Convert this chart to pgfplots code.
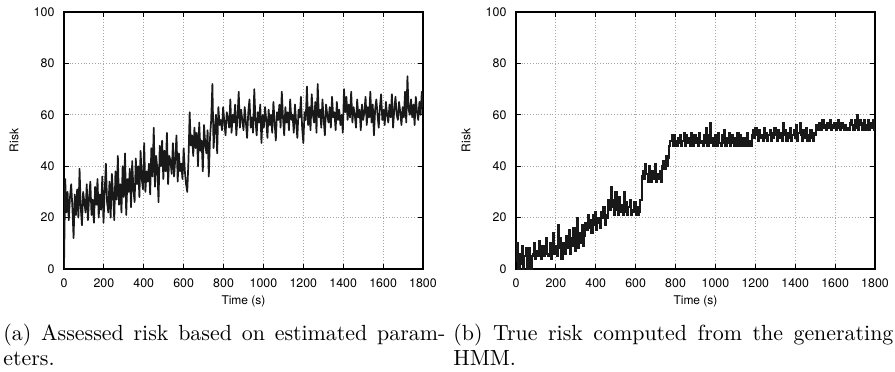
\documentclass[border=0pt]{standalone}
\usepackage{fontspec}
\usepackage{pgfplots}
\usepackage{pgfplotstable}
\pgfplotsset{compat=1.18}
\newfontfamily\hv{TeX Gyre Heros}

\pgfplotstableread[header=false,row sep=\\]{
0\\35\\22\\30\\19\\28\\33\\24\\12\\29\\21\\
31\\20\\39\\24\\17\\30\\26\\22\\33\\19\\
28\\34\\21\\27\\18\\32\\25\\35\\20\\29\\
23\\36\\18\\30\\41\\26\\22\\34\\20\\37\\
29\\19\\38\\27\\44\\25\\33\\22\\40\\28\\
45\\21\\35\\30\\39\\24\\42\\31\\26\\43\\
33\\40\\28\\46\\35\\31\\49\\30\\38\\34\\
41\\29\\47\\36\\55\\32\\44\\39\\26\\48\\
40\\50\\35\\46\\38\\53\\33\\44\\42\\37\\
49\\36\\43\\52\\34\\45\\38\\41\\35\\47\\
38\\33\\30\\42\\61\\48\\52\\44\\55\\47\\
53\\40\\57\\46\\50\\38\\56\\49\\45\\54\\
36\\51\\58\\72\\47\\55\\60\\45\\63\\56\\
58\\54\\63\\57\\52\\61\\59\\55\\66\\53\\
60\\57\\64\\52\\59\\69\\55\\62\\58\\54\\
63\\57\\51\\61\\66\\55\\59\\53\\70\\58\\
52\\61\\57\\64\\49\\60\\55\\63\\58\\51\\
62\\56\\60\\53\\65\\57\\50\\61\\58\\64\\
55\\69\\59\\52\\63\\57\\61\\54\\66\\58\\
60\\53\\64\\57\\51\\62\\59\\67\\55\\49\\
61\\58\\71\\56\\63\\54\\68\\60\\57\\65\\
53\\72\\59\\62\\55\\66\\58\\52\\64\\60\\
57\\63\\55\\67\\59\\61\\54\\65\\58\\62\\
56\\60\\53\\70\\61\\67\\58\\64\\59\\69\\
57\\63\\60\\55\\66\\59\\62\\54\\64\\58\\
61\\67\\56\\63\\59\\69\\57\\64\\52\\62\\
66\\60\\55\\63\\68\\58\\62\\56\\65\\60\\
57\\64\\59\\68\\55\\62\\67\\60\\58\\65\\
61\\56\\63\\59\\69\\57\\75\\62\\60\\66\\
59\\64\\56\\67\\61\\58\\65\\60\\69\\63\\
}\tabA

\pgfplotstableread[header=false,row sep=\\]{
3\\10\\0\\6\\2\\9\\0\\5\\8\\0\\4\\
8\\0\\5\\6\\10\\4\\7\\5\\11\\6\\
4\\9\\5\\7\\12\\6\\5\\10\\4\\8\\
14\\6\\9\\5\\17\\8\\12\\4\\10\\7\\
6\\13\\8\\15\\6\\12\\9\\16\\7\\11\\
20\\8\\14\\10\\17\\9\\13\\18\\15\\21\\
16\\19\\14\\21\\17\\22\\15\\20\\18\\16\\
22\\20\\24\\17\\21\\20\\27\\23\\32\\24\\
27\\21\\30\\23\\21\\28\\22\\25\\21\\30\\
22\\26\\21\\24\\27\\21\\23\\22\\26\\21\\
24\\21\\22\\27\\36\\38\\35\\41\\37\\34\\
40\\36\\34\\38\\35\\41\\34\\37\\35\\38\\
34\\40\\42\\39\\44\\40\\43\\48\\50\\52\\
48\\52\\50\\48\\51\\49\\52\\48\\50\\53\\
48\\52\\49\\51\\48\\53\\50\\48\\52\\49\\
51\\48\\53\\49\\50\\48\\52\\49\\55\\48\\
52\\57\\49\\51\\48\\52\\50\\48\\53\\49\\
48\\52\\49\\54\\48\\51\\49\\53\\48\\52\\
49\\48\\51\\48\\53\\48\\52\\50\\48\\51\\
48\\49\\53\\48\\50\\48\\52\\54\\51\\55\\
52\\50\\54\\51\\52\\50\\55\\51\\53\\50\\
52\\54\\50\\53\\51\\55\\52\\50\\54\\51\\
53\\50\\57\\52\\54\\50\\53\\51\\55\\50\\
52\\54\\51\\56\\50\\53\\57\\52\\50\\54\\
51\\55\\50\\52\\50\\54\\51\\50\\53\\52\\
56\\54\\57\\55\\54\\58\\55\\56\\54\\57\\
55\\58\\54\\56\\55\\57\\54\\56\\58\\55\\
54\\57\\55\\54\\56\\54\\55\\54\\57\\58\\
56\\54\\58\\55\\60\\54\\58\\56\\54\\57\\
58\\54\\56\\58\\54\\57\\55\\58\\54\\57\\
}\tabB

\pgfplotsset{
  riskax/.style={
    anchor=south west, scale only axis,
    width=179.5pt, height=128.5pt,
    xmin=0, xmax=1800, ymin=0, ymax=100,
    xtick={0,200,...,1800}, ytick={0,20,...,100},
    minor tick num=0,
    grid=major,
    grid style={gray!70, densely dotted, line width=0.45pt},
    tick align=inside, major tick length=2.3pt,
    tick style={black, line width=0.5pt},
    axis line style={black, line width=0.65pt},
    /pgf/number format/assume math mode=true,
    /pgf/number format/1000 sep={},
    every tick label/.append style={font=\hv\fontsize{6.2}{7}\selectfont, inner sep=0pt},
    yticklabel style={xshift=-4.6pt},
    xticklabel style={yshift=-4.5pt},
    xlabel={Time (s)}, ylabel={Risk},
    xlabel style={font=\hv\fontsize{6}{7}\selectfont, inner sep=0pt,
      at={(axis description cs:0.5,-0.1245)}, anchor=center},
    ylabel style={font=\hv\fontsize{6}{7}\selectfont, inner sep=0pt,
      at={(axis description cs:-0.1393,0.5)}, anchor=center},
  }
}

\begin{document}
\begin{tikzpicture}
\useasboundingbox (0,0) rectangle (447.5pt,185.5pt);
\begin{axis}[riskax, at={(32pt,51pt)}]
\addplot[black!90, line width=0.85pt, line join=round] table[x expr=\coordindex*6, y index=0] {\tabA};
\end{axis}
\begin{axis}[riskax, at={(258pt,51pt)}]
\addplot[black!90, line width=1pt, const plot] table[x expr=\coordindex*6, y index=0] {\tabB};
\end{axis}
\fontsize{10.95}{13.6}\selectfont
\node[anchor=base west, inner sep=0pt] at (1.5pt,15.5pt) {\makebox[221pt][s]{(a) Assessed risk based on estimated param-}};
\node[anchor=base west, inner sep=0pt] at (1.5pt,3pt) {eters.};
\node[anchor=base west, inner sep=0pt] at (226.5pt,15.5pt) {\makebox[220pt][s]{(b) True risk computed from the generating}};
\node[anchor=base west, inner sep=0pt] at (226.5pt,3pt) {HMM.};
\end{tikzpicture}
\end{document}
